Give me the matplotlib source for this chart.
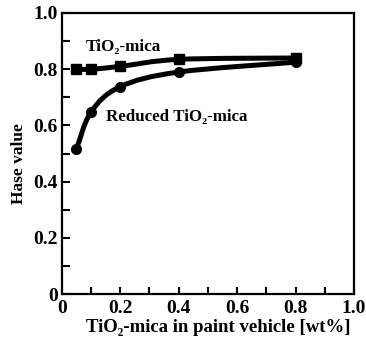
import numpy as np
import matplotlib
matplotlib.use("Agg")
import matplotlib.pyplot as plt
from matplotlib.path import Path
from matplotlib.patches import PathPatch
from matplotlib.ticker import MultipleLocator, FixedFormatter, FixedLocator

# Data
conc = [0.05, 0.1, 0.2, 0.4, 0.8]
tio2_mica = [0.80, 0.80, 0.81, 0.835, 0.84]
reduced_tio2_mica = [0.515, 0.648, 0.738, 0.79, 0.825]
x_ticks = [0, 0.2, 0.4, 0.6, 0.8, 1.0]
x_ticklabels = ["0", "0.2", "0.4", "0.6", "0.8", "1.0"]
y_ticks = [0, 0.2, 0.4, 0.6, 0.8, 1.0]
y_ticklabels = ["0", "0.2", "0.4", "0.6", "0.8", "1.0"]

plt.rcParams['font.family'] = ['Liberation Serif', 'DejaVu Serif']
plt.rcParams['font.weight'] = 'bold'

fig = plt.figure(figsize=(3.66, 3.42), dpi=100)
ax = fig.add_axes([0.169, 0.140, 0.798, 0.822])


def smooth_path(xs, ys):
    # Catmull-Rom style cubic Bezier path through the data points
    pts = np.column_stack([xs, ys])
    verts = [tuple(pts[0])]
    codes = [Path.MOVETO]
    n = len(pts)
    for i in range(n - 1):
        p0 = pts[i - 1] if i > 0 else pts[i]
        p1 = pts[i]
        p2 = pts[i + 1]
        p3 = pts[i + 2] if i + 2 < n else pts[i + 1]
        c1 = p1 + (p2 - p0) / 6.0
        c2 = p2 - (p3 - p1) / 6.0
        verts += [tuple(c1), tuple(c2), tuple(p2)]
        codes += [Path.CURVE4] * 3
    return Path(verts, codes)


for ys, mk in [(tio2_mica, 's'), (reduced_tio2_mica, 'o')]:
    patch = PathPatch(smooth_path(conc, ys), facecolor='none', edgecolor='black',
                      lw=3.6, capstyle='round', joinstyle='round')
    ax.add_patch(patch)
    ax.plot(conc, ys, linestyle='none', marker=mk, color='black', markersize=7)

ax.set_xlim(0, 1.0)
ax.set_ylim(0, 1.0)

ax.xaxis.set_major_locator(FixedLocator(x_ticks))
ax.xaxis.set_major_formatter(FixedFormatter(x_ticklabels))
ax.yaxis.set_major_locator(FixedLocator(y_ticks))
ax.yaxis.set_major_formatter(FixedFormatter(y_ticklabels))
ax.xaxis.set_minor_locator(MultipleLocator(0.1))
ax.yaxis.set_minor_locator(MultipleLocator(0.1))

ax.tick_params(which='both', direction='in', width=1.5, top=False, right=False)
ax.tick_params(axis='y', which='both', length=6)
ax.tick_params(axis='x', which='both', length=5)
ax.tick_params(axis='y', which='major', labelsize=14, pad=3)
ax.tick_params(axis='x', which='major', labelsize=14, pad=4)
for lab in ax.get_xticklabels() + ax.get_yticklabels():
    lab.set_fontweight('bold')

for sp in ax.spines.values():
    sp.set_linewidth(1.6)

ax.set_xlabel("TiO₂-mica in paint vehicle [wt%]", fontsize=13.5, fontweight='bold')
ax.set_ylabel("Hase value", fontsize=12.5, fontweight='bold')
ax.xaxis.set_label_coords(0.537, -0.088)
ax.yaxis.set_label_coords(-0.118, 0.466)

ax.text(0.082, 0.88, "TiO₂-mica", fontsize=12.3, fontweight='bold', va='center', ha='left')
ax.text(0.15, 0.63, "Reduced TiO₂-mica", fontsize=12.2, fontweight='bold', va='center', ha='left')

fig.savefig("out.png", dpi=100)
